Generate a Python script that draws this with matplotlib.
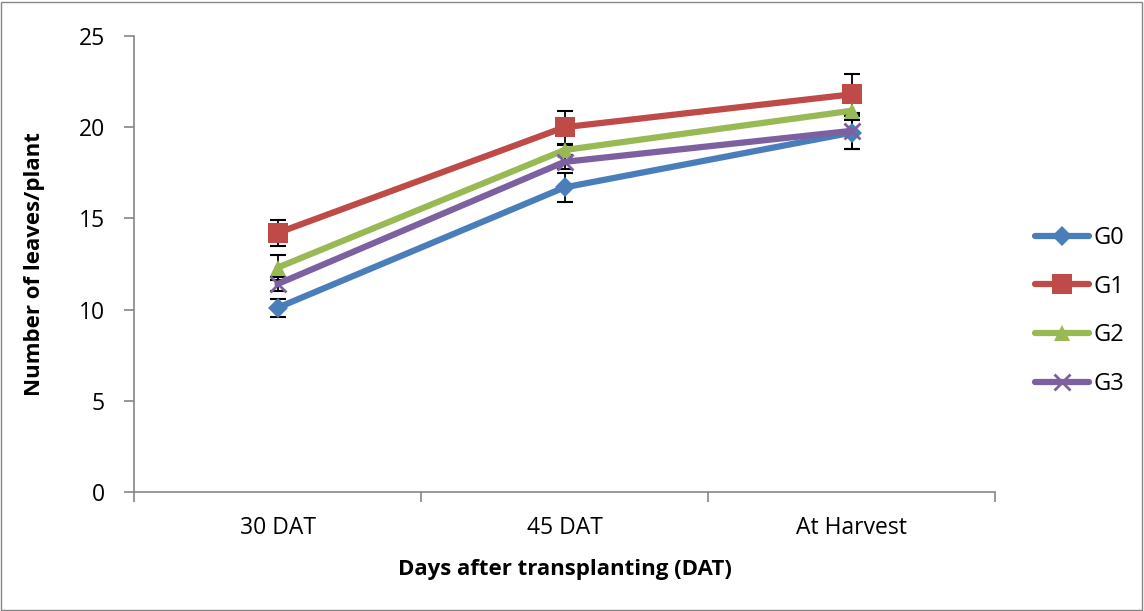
import matplotlib
matplotlib.use("Agg")
import matplotlib.pyplot as plt
from matplotlib.patches import Rectangle

categories = ["30 DAT", "45 DAT", "At Harvest"]
series_names = ["G0", "G1", "G2", "G3"]
g0 = [10.1, 16.7, 19.7]
g1 = [14.2, 20.0, 21.8]
g2 = [12.3, 18.75, 20.9]
g3 = [11.4, 18.1, 19.8]
g0_err = [0.5, 0.8, 0.9]
g1_err = [0.7, 0.9, 1.1]
g2_err = [0.7, 0.3, 0.5]
g3_err = [0.4, 0.4, 1.0]
yticks = [0, 5, 10, 15, 20, 25]

colors = ["#4A7EBB", "#BE4B48", "#98B954", "#7D60A0"]
markers = ["D", "s", "^", "x"]
msizes = [10, 14, 12, 12]

plt.rcParams['font.family'] = ['Open Sans', 'DejaVu Sans']

fig = plt.figure(figsize=(11.44, 6.11), dpi=100)
ax = fig.add_axes([134/1144, 1-492/611, (995-134)/1144, (492-36)/611])

x = list(range(len(categories)))
data = [g0, g1, g2, g3]
errs = [g0_err, g1_err, g2_err, g3_err]
handles = []
for i, (vals, err) in enumerate(zip(data, errs)):
    ax.errorbar(x, vals, yerr=err, fmt='none', ecolor='black', elinewidth=1.3,
                capsize=6, capthick=1.5, zorder=2)
for i, vals in enumerate(data):
    mew = 2 if markers[i] == 'x' else 0
    h, = ax.plot(x, vals, color=colors[i], lw=4.5, marker=markers[i], ms=msizes[i],
                 mfc=colors[i], mec=colors[i], mew=mew, label=series_names[i], zorder=3,
                 solid_capstyle='round')
    handles.append(h)

ax.set_xlim(-0.5, 2.5)
ax.set_ylim(0, 25)
ax.set_yticks(yticks)
ax.set_xticks(x)
ax.set_xticklabels(categories)
ax.set_xticks([-0.5, 0.5, 1.5, 2.5], minor=True)
ax.tick_params(axis='x', which='major', length=0, labelsize=16.5, pad=17)
ax.tick_params(axis='x', which='minor', length=7, width=1.2, color='#868686')
ax.tick_params(axis='y', length=7, width=1.2, color='#868686', labelsize=16.5, pad=14)
for s in ['top', 'right']:
    ax.spines[s].set_visible(False)
for s in ['left', 'bottom']:
    ax.spines[s].set_color('#868686')
    ax.spines[s].set_linewidth(1.2)

ax.set_xlabel("Days after transplanting (DAT)", fontsize=16, fontweight='bold', labelpad=14)
ax.set_ylabel("Number of leaves/plant", fontsize=16, fontweight='bold', labelpad=24)

leg = fig.legend(handles=handles, loc='center left', bbox_to_anchor=(1026/1144, 1-311/611),
                 frameon=False, fontsize=17, handlelength=2.25, labelspacing=1.05,
                 handletextpad=0.2, borderaxespad=0)

fig.patches.append(Rectangle((1/1144, 1/611), 1141/1144, 608/611, transform=fig.transFigure,
                             fill=False, edgecolor='#868686', lw=1))

fig.savefig("out.png", dpi=100)
